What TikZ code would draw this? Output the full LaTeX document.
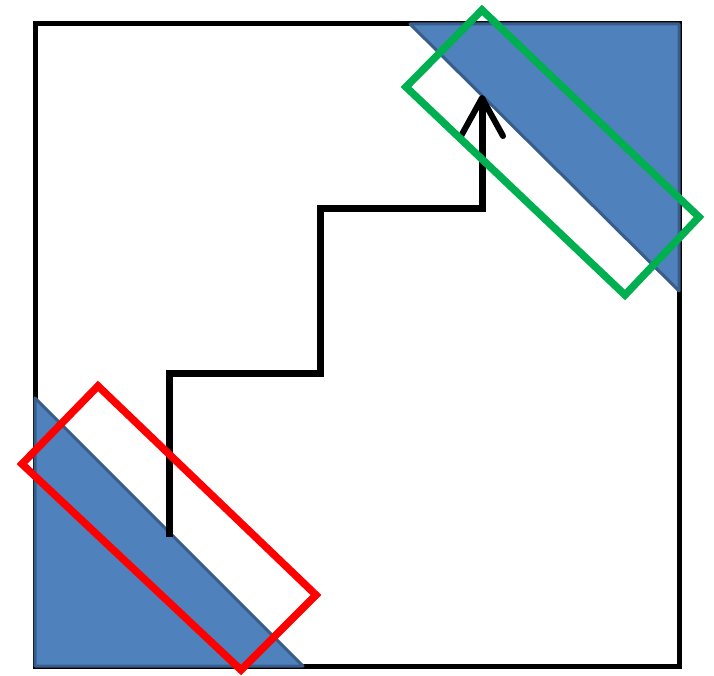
\documentclass[tikz,border=0pt]{standalone}
\usetikzlibrary{arrows.meta}
\definecolor{triblue}{HTML}{4F81BD}
\definecolor{triedge}{HTML}{385D8A}
\definecolor{boxgreen}{HTML}{00B050}
\definecolor{boxred}{HTML}{FF0000}
\tikzset{
  frame/.style={draw=black,line width=5pt},
  tri/.style={fill=triblue,draw=triedge,line width=3pt,line join=round},
  stair/.style={draw=black,line width=7pt,line join=miter},
  band/.style={line width=7.5pt,line join=miter},
}
\begin{document}
\begin{tikzpicture}[x=1pt,y=-1pt]
\useasboundingbox (0,0) rectangle (714,676);
% outer square
\draw[frame] (35,24) rectangle (679,666);
% triangles
\draw[tri] (410,24) -- (679,24) -- (679,291) -- cycle;
\draw[tri] (35,398) -- (35,666) -- (303,666) -- cycle;
% staircase
\coordinate (s0) at (169,537);
\coordinate (s1) at (169,373);
\coordinate (s2) at (320,373);
\coordinate (s3) at (320,209);
\coordinate (s4) at (482,209);
\coordinate (tip) at (482,95);
\draw[stair,-{Straight Barb[length=38pt,width=42pt,line width=6pt,round]}] (s0) -- (s1) -- (s2) -- (s3) -- (s4) -- (tip);
% green rectangle
\draw[band,draw=boxgreen] (482,10) -- (699,217) -- (625,295) -- (406,87) -- cycle;
% red rectangle
\draw[band,draw=boxred] (98,386) -- (316,595) -- (241,670) -- (22,464) -- cycle;
\end{tikzpicture}
\end{document}
